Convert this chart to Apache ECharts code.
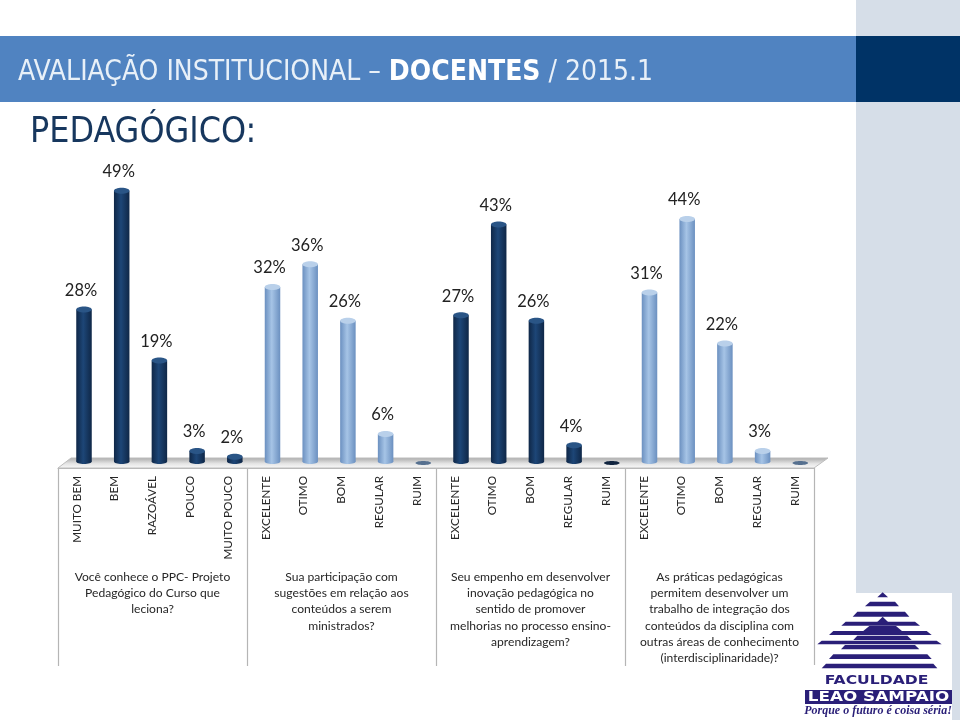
<!DOCTYPE html>
<html><head><meta charset="utf-8">
<style>html,body{margin:0;padding:0;background:#fff}#c{width:960px;height:720px}</style>
<script src="https://cdn.jsdelivr.net/npm/echarts@6/dist/echarts.min.js"></script></head>
<body><div id="c"></div>
<script>
const conhecimento = ['MUITO BEM','BEM','RAZOÁVEL','POUCO','MUITO POUCO'];
const escala = ['EXCELENTE','OTIMO','BOM','REGULAR','RUIM'];
const categories = [...conhecimento, ...escala, ...escala, ...escala];
const q1Values = [28,49,19,3,2];
const q2Values = [32,36,26,6,0];
const q3Values = [27,43,26,4,0];
const q4Values = [31,44,22,3,0];
const values = [...q1Values, ...q2Values, ...q3Values, ...q4Values];
const questions = [
 'Você conhece o PPC- Projeto\nPedagógico do Curso que\nleciona?',
 'Sua participação com\nsugestões em relação aos\nconteúdos a serem\nministrados?',
 'Seu empenho em desenvolver\ninovação pedagógica no\nsentido de promover\nmelhorias no processo ensino-\naprendizagem?',
 'As práticas pedagógicas\npermitem desenvolver um\ntrabalho de integração dos\nconteúdos da disciplina com\noutras áreas de conhecimento\n(interdisciplinaridade)?'
];
const dark = {edge:'#0f2747', mid:'#1d4677', cap:'#2a5586', zero:'#10243f'};
const light = {edge:'#6b90c0', mid:'#a6c4e6', cap:'#b9d0ea', zero:'#56708f'};
const grad = p => ({type:'linear',x:0,y:0,x2:1,y2:0,colorStops:[{offset:0,color:p.edge},{offset:.45,color:p.mid},{offset:1,color:p.edge}]});
const BAR_W = 15.5, CAP = 3;

function cylinder(params, api){
  const i = api.value(0), v = api.value(1);
  const top = api.coord([i, v]);
  const base = api.coord([i, 0]);
  const p = Math.floor(i/5)%2===0 ? dark : light;
  const cx = top[0], rx = BAR_W/2;
  const baseY = base[1]-3.4;
  if(v===0){
    return {type:'ellipse',shape:{cx,cy:base[1]-2,rx,ry:2},style:{fill:p.zero}};
  }
  const capY = top[1]+CAP;
  return {type:'group',children:[
    {type:'ellipse',shape:{cx,cy:baseY,rx,ry:CAP-.5},style:{fill:grad(p)}},
    {type:'rect',shape:{x:cx-rx,y:capY,width:BAR_W,height:Math.max(0,baseY-capY)},style:{fill:grad(p)}},
    {type:'ellipse',shape:{cx,cy:capY,rx,ry:CAP},style:{fill:p.cap}},
    {type:'text',style:{text:v+'%',x:cx-3,y:top[1]-16,align:'center',verticalAlign:'middle',fill:'#222',font:'16.5px Lato'}}
  ]};
}

// logo stripes [topY, topL, topR, botY, botL, botR] in logo crop units
const stripes = [
 [22,248,248,37,232,264],[50,210,285,64,195,297],[80,172,315,95,158,328],
 [110,137,345,122,124,360],[138,100,380,150,87,395],[167,65,410,178,52,425],
 [95,248,248,115,228,268],[123,208,288,150,175,320],[152,172,322,165,160,335],
 [180,135,345,193,123,358],[208,100,382,222,87,395],[236,78,400,250,65,412]
];
const logoPolys = stripes.map(s=>({type:'polygon',z:5,silent:true,
  shape:{points:[[800+s[1]/3,585+s[0]/3],[800+s[2]/3,585+s[0]/3],[800+s[5]/3,585+s[3]/3],[800+s[4]/3,585+s[3]/3]]},
  style:{fill:'#2a1f78'}}));

const rect=(x,y,w,h,fill,z)=>({type:'rect',z:z||0,silent:true,shape:{x,y,width:w,height:h},style:{fill}});
const graphics = [
  rect(856,0,104,720,'#d6dee8'),
  rect(0,36,856,66,'#5083c1'),
  rect(856,36,104,66,'#003366'),
  {type:'polygon',z:1,silent:true,shape:{points:[[58,468],[71,458],[828,458],[814,468]]},
    style:{fill:{type:'linear',x:0,y:0,x2:0,y2:1,colorStops:[{offset:0,color:'#a8a8a8'},{offset:.55,color:'#e4e4e4'},{offset:1,color:'#fbfbfb'}]},stroke:'#bdbdbd',lineWidth:1}},
  {type:'text',z:6,x:18,y:73,style:{text:'{n|AVALIAÇÃO INSTITUCIONAL – }{b|DOCENTES}{n| / 2015.1}',verticalAlign:'middle',
    rich:{n:{fontFamily:'DejaVu Sans Condensed',fontSize:28,fill:'#e8f0f8',color:'#e8f0f8'},b:{fontFamily:'DejaVu Sans Condensed',fontWeight:'bold',fontSize:28,fill:'#fff',color:'#fff'}}}},
  {type:'text',z:6,x:30,y:133,style:{text:'PEDAGÓGICO:',verticalAlign:'middle',fill:'#17375e',font:'35.5px "DejaVu Sans Condensed"'}},
  rect(856,593,96,127,'#fff',2),
  rect(805,665,60,55,'#fff',2),
  ...logoPolys,
  {type:'text',z:6,x:876.5,y:681,scaleX:1.2,style:{text:'FACULDADE',align:'center',verticalAlign:'middle',fill:'#2a1f78',font:'bold 13px "DejaVu Sans"'}},
  rect(805,690,147,14,'#2a1f78',5),
  {type:'text',z:6,x:878.5,y:697,scaleX:1.2,style:{text:'LEÃO SAMPAIO',align:'center',verticalAlign:'middle',fill:'#fff',font:'bold 14px "DejaVu Sans"'}},
  {type:'text',z:6,x:878,y:711,style:{text:'Porque o futuro é coisa séria!',align:'center',verticalAlign:'middle',fill:'#2a1f78',font:'italic bold 12px "Liberation Serif"'}}
];

const chart = echarts.init(document.getElementById('c'),null,{renderer:'canvas'});
chart.setOption({
  animation:false,
  graphic:{elements:graphics},
  grid:[
    {left:65.15,width:754,top:182,height:283},
    {left:58,width:756,top:184.6,height:283.4}
  ],
  xAxis:[
    {type:'category',gridIndex:0,data:categories,show:false},
    {type:'category',gridIndex:1,position:'bottom',data:categories,
      axisLine:{show:false},axisTick:{show:false},
      axisLabel:{interval:0,rotate:90,margin:8,fontFamily:'Lato',fontSize:11.7,color:'#262626',hideOverlap:false}},
    {type:'category',gridIndex:1,position:'bottom',data:questions,
      axisLine:{show:true,lineStyle:{color:'#b5b5b5'}},
      axisTick:{show:true,length:198,lineStyle:{color:'#b5b5b5',width:1.2}},
      axisLabel:{interval:0,margin:101,verticalAlign:'top',lineHeight:16.2,fontFamily:'Lato',fontSize:12.1,color:'#262626',hideOverlap:false}}
  ],
  yAxis:[
    {type:'value',gridIndex:0,min:0,max:50,show:false},
    {type:'value',gridIndex:1,min:0,max:50,show:false}
  ],
  series:[{type:'custom',xAxisIndex:0,yAxisIndex:0,z:10,clip:false,
    data:values.map((v,i)=>[i,v]),encode:{x:0,y:1},renderItem:cylinder}]
});
</script></body></html>
